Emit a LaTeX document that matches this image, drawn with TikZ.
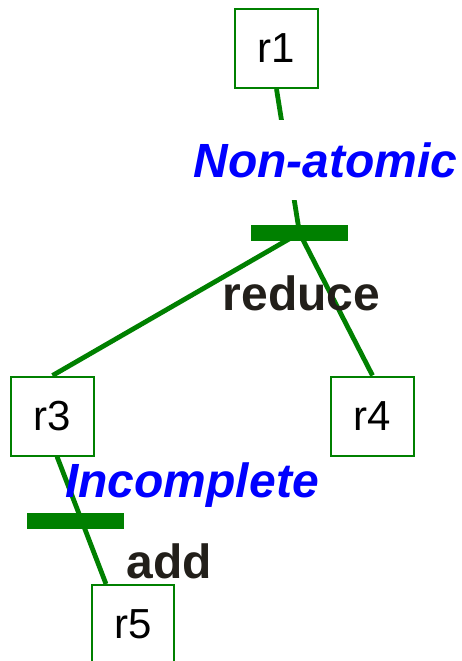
\documentclass[tikz,border=0pt]{standalone}
\usepackage{fontspec}
\setmainfont{Liberation Sans}
\usetikzlibrary{calc}
\definecolor{dgreen}{RGB}{0,128,0}
\definecolor{lblue}{RGB}{0,0,255}
\definecolor{ink}{RGB}{34,31,26}
\newcommand{\rlab}[1]{\raisebox{-3pt}{#1}}
\begin{document}
\begin{tikzpicture}[x=1pt,y=-1pt,
  rbox/.style={draw=dgreen,line width=2pt,minimum width=83pt,minimum height=79pt,inner sep=0pt,
    font=\fontsize{42}{50}\selectfont},
  bar/.style={fill=dgreen,minimum width=97pt,minimum height=16pt,inner sep=0pt},
  conn/.style={draw=dgreen,line width=4.8pt},
  status/.style={text=lblue,font=\fontsize{48}{56}\selectfont\bfseries\itshape,inner sep=0pt},
  action/.style={text=ink,font=\fontsize{48}{56}\selectfont\bfseries,inner sep=0pt}]
\useasboundingbox (0,0) rectangle (461,661);
% boxes
\node[rbox] (r1) at (276.5,48.5) {\rlab{r1}};
\node[rbox] (r3) at (52.5,416) {\rlab{r3}};
\node[rbox] (r4) at (372.5,416) {\rlab{r4}};
\node[rbox,minimum width=82pt] (r5) at (133,624.5) {\rlab{r5}};
% bars
\node[bar] (b1) at (299.5,233) {};
\node[bar] (b2) at (75.5,521) {};
% connectors
\draw[conn] (r1.south) -- (b1.center);
\draw[conn] (b1.center) -- (r3.north);
\draw[conn] (b1.center) -- (r4.north);
\draw[conn] ($(r3.south)+(4.5,0)$) -- ($(r5.north west)+(15,0)$);
% bars on top
\node[bar] at (b1) {};
\node[bar] at (b2) {};
% labels
\node[status,fill=white,minimum height=80pt] (na) at (325.5,160) {Non-atomic};
\node[status,anchor=base] (inc) at (192,497) {Incomplete};
\node[action,anchor=base] (red) at (301.5,310) {reduce};
\node[action,anchor=base] (add) at (169,578) {add};
\end{tikzpicture}
\end{document}
